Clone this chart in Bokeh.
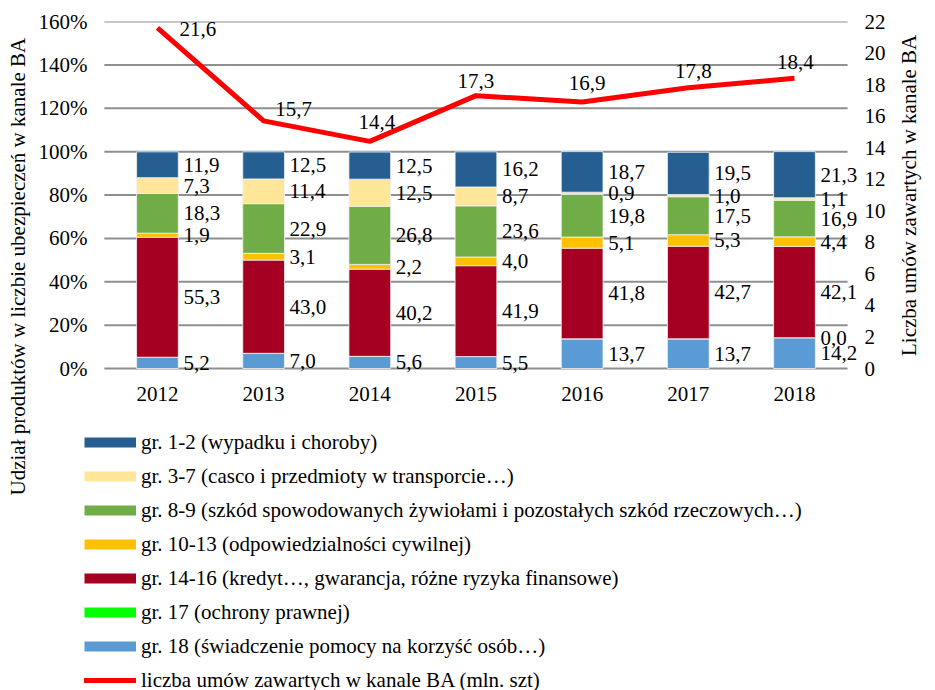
import math
from bokeh.plotting import figure
from bokeh.models import (ColumnDataSource, Range1d, LinearAxis, FixedTicker,
                          PrintfTickFormatter, Legend, LegendItem, Title)
from bokeh.core.properties import value
from bokeh.embed import file_html
from bokeh.resources import INLINE

years = ["2012", "2013", "2014", "2015", "2016", "2017", "2018"]
gr18 = [5.2, 7.0, 5.6, 5.5, 13.7, 13.7, 14.2]
gr17 = [None, None, None, None, None, None, 0.0]
gr14_16 = [55.3, 43.0, 40.2, 41.9, 41.8, 42.7, 42.1]
gr10_13 = [1.9, 3.1, 2.2, 4.0, 5.1, 5.3, 4.4]
gr8_9 = [18.3, 22.9, 26.8, 23.6, 19.8, 17.5, 16.9]
gr3_7 = [7.3, 11.4, 12.5, 8.7, 0.9, 1.0, 1.1]
gr1_2 = [11.9, 12.5, 12.5, 16.2, 18.7, 19.5, 21.3]
contracts = [21.6, 15.7, 14.4, 17.3, 16.9, 17.8, 18.4]
left_ticks = [0, 20, 40, 60, 80, 100, 120, 140, 160]
right_ticks = [0, 2, 4, 6, 8, 10, 12, 14, 16, 18, 20, 22]

series_names = [
    "gr. 1-2 (wypadku i choroby)",
    "gr. 3-7 (casco i przedmioty w transporcie…)",
    "gr. 8-9 (szkód spowodowanych żywiołami i pozostałych szkód rzeczowych…)",
    "gr. 10-13 (odpowiedzialności cywilnej)",
    "gr. 14-16 (kredyt…, gwarancja, różne ryzyka finansowe)",
    "gr. 17 (ochrony prawnej)",
    "gr. 18 (świadczenie pomocy na korzyść osób…)",
]
line_name = "liczba umów zawartych w kanale BA (mln. szt)"
left_title = "Udział produktów w liczbie ubezpieczeń w kanale BA"
right_title = "Liczba umów zawartych w kanale BA"

FONT = "'Liberation Serif', serif"
FS = "21px"

def fmt(v):
    return f"{v:.1f}".replace(".", ",")

# stacking order bottom -> top
stack_keys = ["g18", "g17", "g14", "g10", "g8", "g3", "g1"]
stack_vals = [gr18, gr17, gr14_16, gr10_13, gr8_9, gr3_7, gr1_2]
stack_colors = ["#5B9BD5", "#00FF00", "#A50021", "#FFC000", "#70AD47", "#FFE699", "#255E91"]
legend_colors = ["#255E91", "#FFE699", "#70AD47", "#FFC000", "#A50021", "#00FF00", "#5B9BD5"]

n = len(years)
xs = list(range(n))
data = {"x": xs}
for k, vals in zip(stack_keys, stack_vals):
    data[k] = [0.0 if v is None else v for v in vals]
src = ColumnDataSource(data)

# plot frame covers the chart and the legend area below it
W, H, TOP = 935, 690, 21
ZERO = 368                      # canvas y of the 0 baseline
pct_px = (ZERO - TOP) / 160.0
p = figure(x_range=Range1d(-0.687, n - 1 + 0.65),
           y_range=Range1d(-(H - ZERO) / pct_px, 160),
           width=W, height=H, output_backend="svg", toolbar_location=None,
           min_border_left=84, min_border_right=67, min_border_top=TOP, min_border_bottom=0)
p.outline_line_color = None
r_px = (ZERO - TOP) / 22.0
p.extra_y_ranges = {"right": Range1d(-(H - ZERO) / r_px, 22)}
p.xgrid.grid_line_color = None
p.ygrid.grid_line_color = None
p.xaxis.visible = False

# horizontal gridlines spanning the category area
p.segment(x0=[-0.5] * len(left_ticks), x1=[n - 0.5] * len(left_ticks),
          y0=left_ticks, y1=left_ticks, line_color="#8f8f8f", line_width=2)

p.vbar_stack(stack_keys, x="x", width=0.393, source=src, color=stack_colors,
             line_color="#f2f2f2", line_width=0.8)

# category labels under the baseline
ysrc = ColumnDataSource(dict(x=xs, y=[0] * n, t=years))
p.text(x="x", y="y", text="t", source=ysrc, y_offset=25, text_align="center",
       text_baseline="middle", text_font=value(FONT), text_font_size=FS, text_color="black")

# bar value labels
lx, ly, lt = [], [], []
cum = [0.0] * n
for vals in stack_vals:
    for i, v in enumerate(vals):
        vv = 0.0 if v is None else v
        if v is not None:
            lx.append(xs[i])
            ly.append(cum[i] + vv / 2.0)
            lt.append(fmt(v))
        cum[i] += vv
lsrc = ColumnDataSource(dict(x=lx, y=ly, t=lt))
p.text(x="x", y="y", text="t", source=lsrc, x_offset=26, text_align="left",
       text_baseline="middle", text_font=value(FONT), text_font_size=FS, text_color="black")

# line on right axis
csrc = ColumnDataSource(dict(x=xs, y=contracts))
p.line(x="x", y="y", source=csrc, y_range_name="right", line_color="#FF0000", line_width=5)
dx = [22, 30, 7, 0, 5, 5, 1]
dy = [1, -12, -19, -15, -19, -17, -16]
first = ColumnDataSource(dict(x=xs[:1], y=contracts[:1], t=[fmt(contracts[0])],
                              dx=dx[:1], dy=dy[:1]))
rest = ColumnDataSource(dict(x=xs[1:], y=contracts[1:], t=[fmt(v) for v in contracts[1:]],
                             dx=dx[1:], dy=dy[1:]))
p.text(x="x", y="y", text="t", source=first, y_range_name="right", x_offset="dx", y_offset="dy",
       text_align="left", text_baseline="middle", text_font=value(FONT), text_font_size=FS)
p.text(x="x", y="y", text="t", source=rest, y_range_name="right", x_offset="dx", y_offset="dy",
       text_align="center", text_baseline="middle", text_font=value(FONT), text_font_size=FS)

# left axis
p.yaxis.ticker = FixedTicker(ticks=left_ticks)
p.yaxis.formatter = PrintfTickFormatter(format="%d%%")
ax = p.yaxis[0]
ax.axis_line_color = None
ax.major_tick_line_color = None
ax.minor_tick_line_color = None
ax.major_tick_out = 0
ax.major_tick_in = 0
ax.major_label_text_font = FONT
ax.major_label_text_font_size = FS
ax.major_label_text_color = "black"
ax.major_label_standoff = -3

# right axis
rax = LinearAxis(y_range_name="right", ticker=FixedTicker(ticks=right_ticks),
                 axis_label=right_title)
rax.axis_line_color = None
rax.major_tick_line_color = None
rax.minor_tick_line_color = None
rax.major_tick_out = 0
rax.major_tick_in = 0
rax.major_label_text_font = FONT
rax.major_label_text_font_size = FS
rax.major_label_text_color = "black"
rax.major_label_standoff = 1
rax.axis_label_text_font = FONT
rax.axis_label_text_font_size = FS
rax.axis_label_text_font_style = "normal"
rax.axis_label_text_color = "black"
rax.axis_label_standoff = 20
try:
    rax.axis_label_orientation = math.pi / 2
except Exception:
    pass
p.add_layout(rax, "right")

# left axis title, placed like the reference
ltitle = Title(text=left_title, align="left", vertical_align="top", offset=195, standoff=8,
               text_font=FONT, text_font_size=FS, text_font_style="normal",
               text_color="black")
p.add_layout(ltitle, "left")

# legend proxies (swatches as thick short lines)
nan = float("nan")
items = []
for name, col in zip(series_names, legend_colors):
    r = p.line(x=[nan], y=[nan], line_color=col, line_width=10, line_cap="butt")
    items.append(LegendItem(label=name, renderers=[r]))
r = p.line(x=[nan], y=[nan], line_color="#FF0000", line_width=5, line_cap="round")
items.append(LegendItem(label=line_name, renderers=[r]))

legend = Legend(items=items, location=(0, -3), orientation="vertical",
                glyph_width=52, glyph_height=26, label_height=26, spacing=8,
                label_standoff=5, padding=0, margin=0,
                border_line_color=None, background_fill_alpha=0,
                label_text_font=FONT, label_text_font_size=FS, label_text_color="black")
p.add_layout(legend, "center")

open("out.html", "w").write(file_html(p, INLINE))
